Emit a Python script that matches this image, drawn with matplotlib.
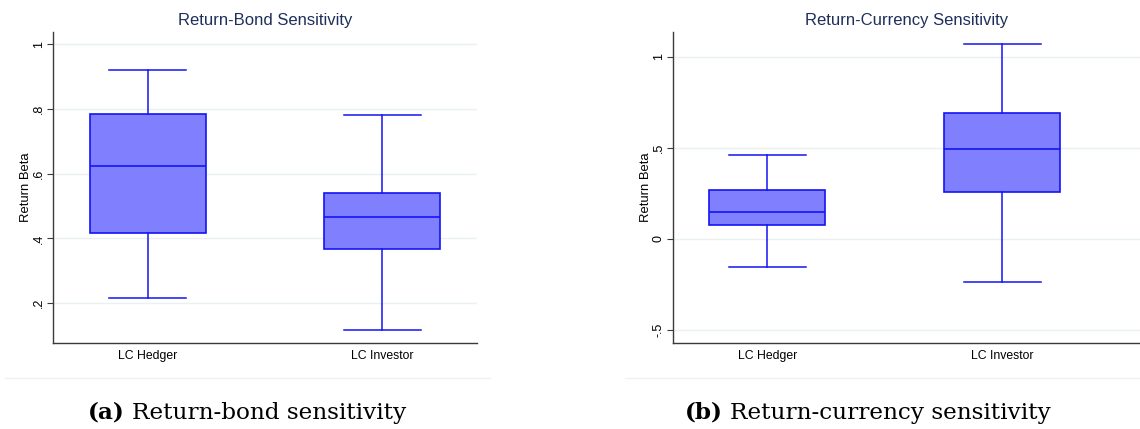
import numpy as np
import matplotlib.pyplot as plt
from matplotlib.lines import Line2D

# box statistics per investor group: lower whisker, q1, median, q3, upper whisker
groups = ["LC Hedger", "LC Investor"]

bond_low = [0.217, 0.117]
bond_q1 = [0.418, 0.367]
bond_med = [0.624, 0.466]
bond_q3 = [0.784, 0.540]
bond_high = [0.920, 0.782]

fx_low = [-0.154, -0.236]
fx_q1 = [0.075, 0.256]
fx_med = [0.146, 0.493]
fx_q3 = [0.269, 0.688]
fx_high = [0.461, 1.069]

bond_ticks = [0.2, 0.4, 0.6, 0.8, 1.0]
bond_ticklabels = [".2", ".4", ".6", ".8", "1"]
fx_ticks = [-0.5, 0, 0.5, 1.0]
fx_ticklabels = ["-.5", "0", ".5", "1"]

W, H = 1140, 429
fig = plt.figure(figsize=(W / 100, H / 100), dpi=100)

sans = "Liberation Sans"
fill = "#8080ff"
edge = "#1414f5"
grid_c = "#eaf1f2"
spine_c = "#3a3a3a"
title_c = "#1f2f5c"


def stats(low, q1, med, q3, high):
    out = []
    for i in range(len(low)):
        out.append(dict(whislo=low[i], q1=q1[i], med=med[i], q3=q3[i],
                        whishi=high[i], fliers=[], label=groups[i]))
    return out


def panel(rect, data, ylim, xlim, ticks, ticklabels, title):
    ax = fig.add_axes(rect)
    ax.bxp(stats(*data), positions=[1, 2], widths=0.494, capwidths=0.33,
           showfliers=False, patch_artist=True,
           boxprops=dict(facecolor=fill, edgecolor=edge, linewidth=1.2),
           medianprops=dict(color=edge, linewidth=1.2),
           whiskerprops=dict(color=edge, linewidth=1.1),
           capprops=dict(color=edge, linewidth=1.1))
    ax.set_xlim(*xlim)
    ax.set_ylim(*ylim)
    ax.set_yticks(ticks)
    ax.set_yticklabels(ticklabels, rotation=90, va="center", family=sans, fontsize=9)
    ax.set_xticks([1, 2])
    ax.set_xticklabels(groups, family=sans, fontsize=8.8)
    ax.tick_params(axis="y", length=4, width=0.8, color=spine_c, pad=2)
    ax.tick_params(axis="x", length=0, pad=5)
    ax.yaxis.grid(True, color=grid_c, linewidth=1.0)
    ax.set_axisbelow(True)
    for s in ["top", "right"]:
        ax.spines[s].set_visible(False)
    for s in ["left", "bottom"]:
        ax.spines[s].set_color(spine_c)
        ax.spines[s].set_linewidth(1.0)
    ax.set_ylabel("Return Beta", family=sans, fontsize=9.4, labelpad=1)
    ax.set_title(title, family=sans, fontsize=12, color=title_c, pad=5)
    return ax


def px_rect(x0, x1, y_top, y_bot):
    return [x0 / W, 1 - y_bot / H, (x1 - x0) / W, (y_bot - y_top) / H]


panel(px_rect(53.3, 477, 32, 343),
      (bond_low, bond_q1, bond_med, bond_q3, bond_high),
      (0.077, 1.038), (0.598, 2.403), bond_ticks, bond_ticklabels,
      "Return-Bond Sensitivity")

panel(px_rect(673.3, 1140, 32, 343),
      (fx_low, fx_q1, fx_med, fx_q3, fx_high),
      (-0.571, 1.135), (0.6, 2 + (1140 - 1002.3) / 235), fx_ticks, fx_ticklabels,
      "Return-Currency Sensitivity")

# faint separators under each panel
fig.add_artist(Line2D([5 / W, 490 / W], [1 - 378 / H] * 2, color="#f1f1f1", lw=1))
fig.add_artist(Line2D([625 / W, 1140 / W], [1 - 378 / H] * 2, color="#f1f1f1", lw=1))

# sub-captions
serif = "DejaVu Serif"
fig.canvas.draw()
for x0, tag, text in [(88, "(a)", "Return-bond sensitivity"),
                      (685, "(b)", "Return-currency sensitivity")]:
    t = fig.text(x0 / W, 1 - 419 / H, tag, family=serif, fontsize=16.7,
                 weight="bold", va="baseline")
    bb = t.get_window_extent(fig.canvas.get_renderer())
    fig.text((bb.x1 + 7) / W, 1 - 419 / H, text, family=serif, fontsize=16.7,
             va="baseline")

fig.savefig("out.png", dpi=100)
